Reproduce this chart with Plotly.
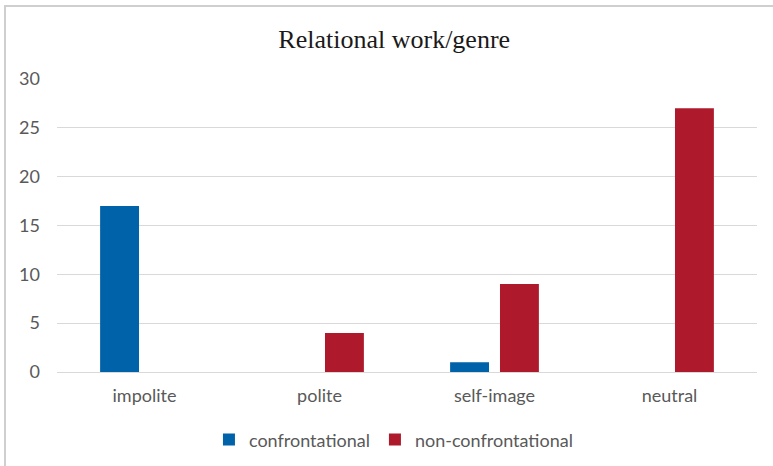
import plotly.graph_objects as go

# Relational work by genre: counts per category
categories = ["impolite", "polite", "self-image", "neutral"]
confrontational = [17, 0, 1, 0]
non_confrontational = [0, 4, 9, 27]
y_ticks = [0, 5, 10, 15, 20, 25, 30]

BLUE = "#0062A8"
RED = "#AE1A2C"
TEXT = "#595959"
GRID = "#D9D9D9"
SANS = "Lato, Carlito, Calibri, sans-serif"

fig = go.Figure()
fig.add_trace(go.Bar(
    name="confrontational", x=categories, y=confrontational,
    marker=dict(color=BLUE, line=dict(width=0)),
))
fig.add_trace(go.Bar(
    name="non-confrontational", x=categories, y=non_confrontational,
    marker=dict(color=RED, line=dict(width=0)),
))

fig.update_layout(
    width=773, height=466,
    margin=dict(l=57, r=16, t=79, b=94),
    paper_bgcolor="white", plot_bgcolor="white",
    barmode="group", bargap=0.43, bargroupgap=0.22,
    title=dict(
        text="Relational work/genre",
        font=dict(family="Liberation Serif, Times New Roman, serif", size=26, color="#1a1a1a"),
        x=0.51, xref="container", xanchor="center",
        y=0.916, yref="container", yanchor="middle",
    ),
    font=dict(family=SANS, size=18, color=TEXT),
    legend=dict(
        orientation="h", x=0.509, xref="container", xanchor="center",
        y=0.056, yref="container", yanchor="middle",
        font=dict(family=SANS, size=18, color=TEXT),
        itemwidth=30, traceorder="normal",
    ),
    xaxis=dict(
        showgrid=False, showline=False, ticks="", zeroline=False,
        tickfont=dict(family=SANS, size=18, color=TEXT),
        ticklabelstandoff=11,
    ),
    yaxis=dict(
        range=[0, 30], tickvals=y_ticks, showgrid=True, gridcolor=GRID, gridwidth=1,
        zeroline=True, zerolinecolor=GRID, zerolinewidth=1, showline=False, ticks="",
        tickfont=dict(family=SANS, size=18, color=TEXT),
        ticklabelstandoff=16,
    ),
    shapes=[
        # outer frame of the chart area (left and top edges visible)
        dict(type="rect", xref="paper", yref="paper",
             x0=-0.0743, x1=1.05, y0=-0.35, y1=1.249,
             line=dict(color="#CFCFCF", width=2), layer="below"),
    ],
)

fig.write_html("out.html")
